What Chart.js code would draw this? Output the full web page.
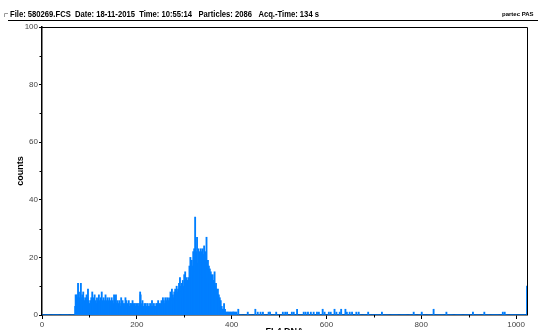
<!DOCTYPE html>
<html>
<head>
<meta charset="utf-8">
<script src="https://cdn.jsdelivr.net/npm/chart.js@4.4.1/dist/chart.umd.min.js"></script>
<style>
  html, body { margin: 0; padding: 0; background: #fff; overflow: hidden; }
  #wrap { width: 538px; height: 340px; }
</style>
</head>
<body>
<div id="wrap"><canvas id="chartHist" width="538" height="340"></canvas></div>
<script>
// Textos
const headerText = "File: 580269.FCS  Date: 18-11-2015  Time: 10:55:14   Particles: 2086   Acq.-Time: 134 s";
const brandText = "partec PAS";
const xTitle = "FL4 DNA";
const yTitle = "counts";

// Eixos
const channelMax = 1023;
const xMajorTicks = [0, 200, 400, 600, 800, 1000];
const yMajorTicks = [0, 20, 40, 60, 80, 100];

// Histograma: canais 70..419
const firstChannel = 70;
const mainCounts = [
  3, 7, 5, 7, 4, 6, 11, 5, 8, 4,
  6, 5, 11, 6, 4, 7, 5, 8, 3, 5,
  4, 6, 5, 3, 7, 4, 6, 9, 5, 3,
  4, 2, 5, 3, 6, 4, 8, 3, 5, 6,
  4, 7, 3, 5, 4, 2, 6, 4, 5, 3,
  7, 4, 5, 3, 6, 4, 8, 5, 3, 4,
  6, 5, 2, 4, 7, 3, 5, 4, 6, 3,
  5, 4, 6, 2, 4, 5, 3, 6, 4, 5,
  3, 4, 7, 2, 5, 4, 7, 3, 4, 5,
  2, 4, 3, 5, 4, 2, 3, 6, 4, 3,
  5, 3, 4, 2, 3, 4, 6, 3, 5, 3,
  2, 4, 3, 5, 3, 2, 4, 3, 4, 2,
  3, 5, 3, 4, 2, 3, 4, 2, 3, 4,
  3, 2, 4, 3, 2, 4, 3, 8, 7, 2,
  3, 4, 5, 2, 3, 1, 4, 3, 2, 4,
  2, 3, 2, 4, 3, 1, 3, 2, 4, 3,
  2, 3, 5, 2, 3, 2, 4, 3, 1, 3,
  2, 4, 3, 4, 2, 5, 3, 4, 3, 2,
  4, 3, 5, 3, 4, 6, 3, 5, 4, 3,
  6, 4, 5, 3, 6, 4, 5, 3, 6, 4,
  5, 8, 4, 6, 9, 5, 7, 4, 6, 8,
  5, 9, 7, 4, 10, 8, 5, 9, 7, 11,
  8, 13, 6, 10, 8, 11, 6, 12, 10, 7,
  14, 9, 15, 12, 8, 13, 12, 9, 12, 13,
  10, 17, 15, 20, 12, 16, 19, 11, 17, 22,
  14, 23, 21, 34, 15, 22, 11, 27, 18, 12,
  23, 20, 13, 22, 16, 23, 14, 22, 18, 23,
  21, 13, 24, 20, 22, 12, 19, 27, 16, 13,
  19, 15, 17, 11, 16, 13, 15, 14, 10, 13,
  14, 12, 9, 12, 15, 10, 8, 11, 9, 6,
  7, 9, 6, 7, 5, 6, 3, 5, 2, 3,
  2, 1, 2, 1, 4, 1, 2, 1, 0, 1,
  1, 0, 1, 1, 0, 1, 0, 1, 1, 0,
  1, 0, 1, 1, 0, 1, 1, 0, 0, 1,
  1, 0, 0, 0, 2, 0, 0, 0, 0, 0
];

// Eventos isolados acima do canal 420
const sparseChannels = [434, 450, 455, 461, 466, 478, 481, 494, 508, 513, 517, 527, 531, 538, 552, 556, 561, 567, 573, 580, 584, 592, 596, 605, 609, 617, 621, 628, 631, 640, 643, 649, 654, 663, 668, 688, 717, 784, 801, 826, 853, 909, 933, 972, 976, 1023];
const sparseCounts   = [1,   2,   1,   1,   1,   1,   1,   1,   1,   1,   1,   1,   1,   2,   1,   1,   1,   1,   1,   1,   1,   2,   1,   1,   1,   2,   1,   1,   2,   2,   1,   1,   1,   1,   1,   1,   1,   1,   1,   2,   1,   1,   1,   1,   1,   10];

// Montar pontos
const counts = new Array(channelMax + 1).fill(0);
mainCounts.forEach((v, i) => { counts[firstChannel + i] = v; });
sparseChannels.forEach((ch, i) => { counts[ch] = sparseCounts[i]; });
const points = counts.map((y, x) => ({ x: x, y: y }));

const fontFamily = "'Liberation Sans', Arial, sans-serif";
Chart.defaults.font.family = fontFamily;

// Moldura, ticks menores e cabeçalho
const framePlugin = {
  id: "frame",
  beforeDatasetsDraw(chart) {
    const { ctx, chartArea: a } = chart;
    ctx.save();
    ctx.strokeStyle = "#000";
    ctx.lineWidth = 1;
    ctx.beginPath();
    ctx.moveTo(a.left, a.top + 0.5);
    ctx.lineTo(a.right + 0.5, a.top + 0.5);
    ctx.lineTo(a.right + 0.5, a.bottom);
    ctx.stroke();
    ctx.restore();
  },
  afterDraw(chart) {
    const { ctx, chartArea: a } = chart;
    const xs = chart.scales.x, ys = chart.scales.y;
    ctx.save();
    ctx.strokeStyle = "#000";
    ctx.lineWidth = 1;
    ctx.beginPath();
    for (let v = 100; v < 1000; v += 200) {
      const px = Math.round(xs.getPixelForValue(v)) + 0.5;
      ctx.moveTo(px, a.bottom);
      ctx.lineTo(px, a.bottom + 2.5);
    }
    for (let v = 10; v < 100; v += 20) {
      const py = Math.round(ys.getPixelForValue(v)) + 0.5;
      ctx.moveTo(a.left, py);
      ctx.lineTo(a.left - 2.5, py);
    }
    ctx.stroke();

    // cabeçalho
    ctx.strokeStyle = "#999";
    ctx.beginPath();
    ctx.moveTo(4.5, 17);
    ctx.lineTo(4.5, 13.5);
    ctx.lineTo(8, 13.5);
    ctx.stroke();

    ctx.fillStyle = "#000";
    ctx.textBaseline = "alphabetic";
    ctx.textAlign = "left";
    ctx.font = "bold 9px " + fontFamily;
    ctx.fillText(headerText, 10, 17, 309);
    ctx.font = "bold 6px " + fontFamily;
    ctx.fillText(brandText, 502, 16);

    ctx.strokeStyle = "#000";
    ctx.beginPath();
    ctx.moveTo(8, 20.5);
    ctx.lineTo(538, 20.5);
    ctx.stroke();
    ctx.restore();
  },
};

const ctx = document.getElementById("chartHist").getContext("2d");
const chart = new Chart(ctx, {
  type: "bar",
  data: {
    datasets: [
      {
        data: points,
        backgroundColor: "rgb(0, 127, 255)",
        borderWidth: 0,
        barThickness: 1.2,
      },
    ],
  },
  options: {
    responsive: false,
    animation: false,
    devicePixelRatio: 1,
    layout: { padding: { top: 27, right: 11, left: 0, bottom: 0 } },
    plugins: {
      legend: { display: false },
      tooltip: { enabled: false },
    },
    scales: {
      x: {
        type: "linear",
        min: 0,
        max: channelMax,
        offset: false,
        ticks: {
          stepSize: 100,
          includeBounds: false,
          autoSkip: false,
          maxRotation: 0,
          color: "#444",
          font: { size: 8 },
          padding: 1,
          callback: (v) => (xMajorTicks.includes(v) ? v : ""),
        },
        grid: {
          display: true,
          offset: false,
          drawOnChartArea: false,
          drawTicks: true,
          tickLength: 4,
          tickWidth: 1,
          tickColor: (c) => (c.tick && xMajorTicks.includes(c.tick.value) ? "#000" : "rgba(0,0,0,0)"),
        },
        border: { display: true, color: "#000", width: 1.5 },
        title: {
          display: true,
          text: xTitle,
          color: "#000",
          font: { size: 9, weight: "bold" },
          padding: { top: 0, bottom: 3 },
        },
        afterFit: (s) => { s.height = 25; },
      },
      y: {
        min: 0,
        max: 100,
        ticks: {
          stepSize: 10,
          color: "#444",
          font: { size: 8 },
          padding: 1,
          callback: (v) => (yMajorTicks.includes(v) ? v : ""),
        },
        grid: {
          display: true,
          drawOnChartArea: false,
          drawTicks: true,
          tickLength: 3,
          tickWidth: 1,
          tickColor: (c) => (c.tick && yMajorTicks.includes(c.tick.value) ? "#000" : "rgba(0,0,0,0)"),
        },
        border: { display: true, color: "#000", width: 1.5 },
        title: {
          display: true,
          text: yTitle,
          color: "#000",
          font: { size: 9, weight: "bold" },
          padding: { top: 15, bottom: 0 },
        },
        afterFit: (s) => { s.width = 42; },
      },
    },
  },
  plugins: [framePlugin],
});
</script>
</body>
</html>
